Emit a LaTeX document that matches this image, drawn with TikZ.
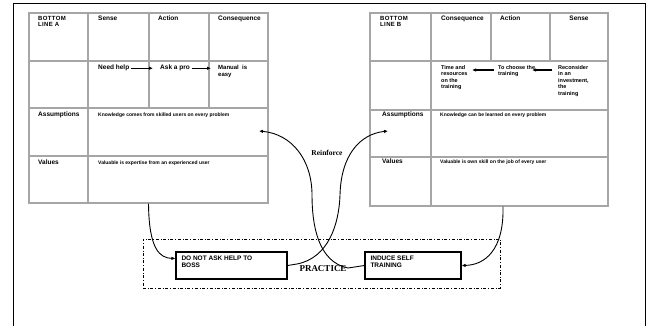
\documentclass[tikz,border=0pt]{standalone}
\usepackage{fontspec}
\setmainfont{Liberation Serif}
\setsansfont{Liberation Sans}
\newfontfamily\widefont[LetterSpace=6]{Liberation Sans}
\usetikzlibrary{positioning, arrows.meta}

\begin{document}
\begin{tikzpicture}[
    % GLOBAL CFG
    x=1pt, y=-1pt,
    font=\sffamily\bfseries\fontsize{5}{6}\selectfont,
    >={Latex[length=4pt,width=3.5pt]},
    % Styles
    tablebox/.style={% For the outline of a table
        rectangle,
        draw=gray!70,
        line width=1.3pt,
        inner sep=0pt,
        },
    gridline/.style={% For the inner lines of a table
        draw=gray!70,
        line width=1.3pt,
        },
    celltext/.style={% For the texts in the cells
        anchor=north west,
        inner sep=0pt,
        align=left,
        },
    cellhead/.style={% For the headings of the cells
        celltext,
        font=\sffamily\bfseries\fontsize{6.5}{7}\selectfont,
        },
    smalltext/.style={% For the steps of the right table
        celltext,
        font=\sffamily\bfseries\fontsize{5.5}{6.5}\selectfont,
        },
    headtext/.style={% For BOTTOM LINE
        celltext,
        font=\widefont\bfseries\fontsize{6}{6.5}\selectfont,
        },
    actbox/.style={% For the two practice boxes
        rectangle,
        draw,
        line width=1.1pt,
        minimum width=111pt,
        minimum height=27pt,
        inner sep=4pt,
        font=\sffamily\bfseries\fontsize{6.5}{6.5}\selectfont,
        },
    ArrowC1/.style={% Curved connectors
        line width=0.9pt,
        },
    ArrowS/.style={% Short arrows in the cells
        ->,
        line width=1.1pt,
        },
    ]

    \useasboundingbox (0,0) rectangle (652,326);

    % page frame
    \draw [line width=1pt] (13,326) |- (645,4) -- (645,326);

    % Left table
    \node [tablebox, minimum width=239pt, minimum height=190pt] (ltab) at (148.5,108) {};
    \draw [gridline] (88,13) -- (88,203);
    \foreach \xx in {149,209}
        \draw [gridline] (\xx,13) -- (\xx,108);
    \foreach \yy in {61,108,156}
        \draw [gridline] (29,\yy) -- (268,\yy);

    % Right table
    \node [tablebox, minimum width=238pt, minimum height=193pt] (rtab) at (489,109.5) {};
    \draw [gridline] (431,13) -- (431,206);
    \foreach \xx in {491,550}
        \draw [gridline] (\xx,13) -- (\xx,61);
    \foreach \yy in {61,110,157}
        \draw [gridline] (370,\yy) -- (608,\yy);

    % Texts of the left table
    \node [headtext] (lBottom) at (38,16) {BOTTOM\\LINE A};
    \node [cellhead] (lSense) at (98,16) {Sense};
    \node [cellhead] (lAction) at (158,16) {Action};
    \node [cellhead] (lConseq) at (218,16) {Consequence};
    \node [cellhead] (needhelp) at (98,65) {Need help};
    \node [cellhead] (askpro) at (160,65) {Ask a pro};
    \node [cellhead, font=\sffamily\bfseries\fontsize{6}{6.5}\selectfont] (manual) at (218,65) {Manual\ \ is\\easy};
    \node [cellhead] (lAsmHd) at (38,112) {Assumptions};
    \node [celltext] (lAsmTx) at (98,113) {Knowledge comes from skilled users on every problem};
    \node [cellhead] (lValHd) at (38,160) {Values};
    \node [celltext] (lValTx) at (98,161) {Valuable is expertise from an experienced user};

    % Texts of the right table
    \node [headtext] (rBottom) at (380,16) {BOTTOM\\LINE B};
    \node [cellhead] (rConseq) at (441,16) {Consequence};
    \node [cellhead] (rAction) at (500,16) {Action};
    \node [cellhead, anchor=north] (rSense) at (579,16) {Sense};
    \node [smalltext] (timeres) at (441,65) {Time and\\resources\\on the\\training};
    \node [smalltext] (choose) at (498,65) {To choose the\\training};
    \node [smalltext] (reconsider) at (558,65) {Reconsider\\in an\\investment,\\the\\training};
    \node [cellhead] (rAsmHd) at (382,112) {Assumptions};
    \node [celltext] (rAsmTx) at (440,113) {Knowledge can be learned on every problem};
    \node [cellhead] (rValHd) at (382,159) {Values};
    \node [celltext] (rValTx) at (440,160) {Valuable is own skill on the job of every user};

    % Arrows in the cells
    \draw [ArrowS, shorten <=2pt, shorten >=7pt] (needhelp) -- (askpro);
    \draw [ArrowS, shorten <=2pt, shorten >=7pt] (askpro) -- (askpro -| manual.west);
    \coordinate (rArr1) at (494,70);
    \coordinate (rArr2) at (552,70);
    \draw [ArrowS] (rArr1) -- (472,70);
    \draw [ArrowS] (rArr2) -- (532,70);

    % Practice area
    \node [rectangle, draw, dash dot, line width=0.8pt, minimum width=357pt, minimum height=49pt] (practicebox) at (321.5,263.5) {};
    \node [actbox] (noask) at (231.5,265.5) {\parbox[t][19pt][t]{100pt}{DO NOT ASK HELP TO\\BOSS}};
    \node [actbox, minimum width=96pt] (induce) at (413,265.5) {\parbox[t][19pt][t]{85pt}{INDUCE SELF\\TRAINING}};
    \node [font=\rmfamily\bfseries\fontsize{9}{10}\selectfont, inner sep=1pt] (practice) at (323,269) {PRACTICE};
    \node [font=\rmfamily\bfseries\fontsize{7.5}{8}\selectfont, inner sep=1pt] (reinforce) at (327,153) {Reinforce};

    % Curved connectors
    \coordinate (lAsm) at (259,131);
    \coordinate (rAsm) at (388,131);
    \draw [->, ArrowC1] (ltab.south) .. controls (149,250) and (160,258) .. ([yshift=7pt]noask.west);
    \draw [->, ArrowC1] ([xshift=14pt]rtab.south) .. controls (504,250) and (485,265) .. (induce.east);
    \draw [->, ArrowC1] (noask.east) -- (297,264) .. controls (328,258) and (339,225) .. (340,195)
        .. controls (341,155) and (360,134) .. (rAsm);
    \draw [->, ArrowC1] (induce.west) -- (348,268) .. controls (318,262) and (312,225) .. (312,195)
        .. controls (312,160) and (292,134) .. (lAsm);

  \end{tikzpicture}
\end{document}
